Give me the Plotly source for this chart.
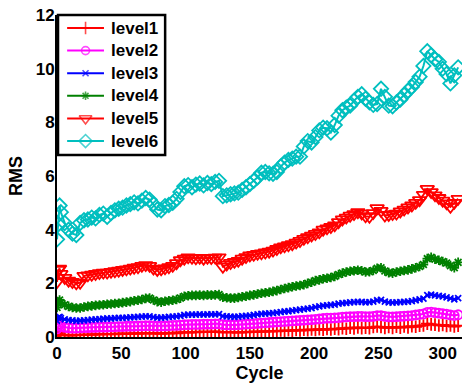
import plotly.graph_objects as go

# Cycle index of each sample
cycles = [0, 1, 2] + list(range(3, 313, 3))

level1 = [0.12, 0.16, 0.10,
          0.07, 0.09, 0.05, 0.08, 0.06, 0.09, 0.07, 0.10, 0.08, 0.11,
          0.09, 0.12, 0.10, 0.12, 0.10, 0.13, 0.11, 0.13, 0.12, 0.14,
          0.12, 0.15, 0.13, 0.15, 0.13, 0.14, 0.12, 0.15, 0.13, 0.16,
          0.14, 0.17, 0.18, 0.16, 0.19, 0.17, 0.20, 0.18, 0.20, 0.18,
          0.21, 0.19, 0.17, 0.19, 0.17, 0.18, 0.16, 0.19, 0.17, 0.20,
          0.18, 0.21, 0.19, 0.22, 0.20, 0.23, 0.21, 0.24, 0.22, 0.25,
          0.23, 0.26, 0.24, 0.27, 0.25, 0.28, 0.26, 0.29, 0.27, 0.30,
          0.28, 0.31, 0.29, 0.33, 0.31, 0.35, 0.32, 0.36, 0.33, 0.35,
          0.33, 0.37, 0.39, 0.37, 0.34, 0.37, 0.34, 0.38, 0.35, 0.39,
          0.36, 0.40, 0.38, 0.42, 0.43, 0.50, 0.47, 0.46, 0.43, 0.45,
          0.41, 0.43, 0.39, 0.42]

level2 = [0.30, 0.40, 0.45,
          0.40, 0.36, 0.34, 0.33, 0.33, 0.34, 0.35, 0.35, 0.36, 0.36,
          0.37, 0.37, 0.37, 0.38, 0.38, 0.39, 0.39, 0.40, 0.40, 0.40,
          0.41, 0.41, 0.42, 0.42, 0.41, 0.40, 0.41, 0.41, 0.42, 0.43,
          0.43, 0.44, 0.46, 0.46, 0.47, 0.47, 0.47, 0.48, 0.48, 0.48,
          0.49, 0.49, 0.46, 0.45, 0.45, 0.45, 0.46, 0.47, 0.48, 0.49,
          0.50, 0.51, 0.52, 0.53, 0.54, 0.55, 0.56, 0.57, 0.58, 0.59,
          0.60, 0.61, 0.62, 0.63, 0.64, 0.65, 0.66, 0.67, 0.69, 0.70,
          0.70, 0.71, 0.72, 0.74, 0.75, 0.76, 0.76, 0.77, 0.77, 0.76,
          0.76, 0.77, 0.80, 0.80, 0.77, 0.75, 0.75, 0.76, 0.77, 0.78,
          0.79, 0.80, 0.82, 0.84, 0.86, 0.92, 0.93, 0.91, 0.89, 0.87,
          0.85, 0.82, 0.80, 0.83]

level3 = [0.60, 0.72, 0.75,
          0.70, 0.66, 0.63, 0.62, 0.60, 0.61, 0.62, 0.63, 0.65, 0.66,
          0.67, 0.68, 0.69, 0.69, 0.70, 0.71, 0.71, 0.72, 0.73, 0.74,
          0.75, 0.76, 0.77, 0.77, 0.74, 0.72, 0.72, 0.73, 0.75, 0.76,
          0.77, 0.79, 0.82, 0.83, 0.83, 0.83, 0.84, 0.83, 0.84, 0.84,
          0.84, 0.85, 0.78, 0.77, 0.76, 0.75, 0.76, 0.78, 0.79, 0.80,
          0.82, 0.84, 0.86, 0.87, 0.88, 0.89, 0.91, 0.93, 0.95, 0.96,
          0.98, 1.00, 1.02, 1.04, 1.06, 1.08, 1.11, 1.14, 1.17, 1.18,
          1.20, 1.21, 1.24, 1.26, 1.27, 1.29, 1.30, 1.31, 1.31, 1.29,
          1.30, 1.32, 1.37, 1.38, 1.32, 1.29, 1.28, 1.29, 1.30, 1.31,
          1.32, 1.34, 1.37, 1.40, 1.43, 1.56, 1.58, 1.55, 1.53, 1.51,
          1.48, 1.44, 1.40, 1.45]

level4 = [1.10, 1.30, 1.38,
          1.28, 1.20, 1.14, 1.10, 1.08, 1.08, 1.12, 1.14, 1.16, 1.18,
          1.19, 1.20, 1.22, 1.23, 1.25, 1.26, 1.28, 1.30, 1.32, 1.35,
          1.37, 1.40, 1.44, 1.45, 1.38, 1.32, 1.30, 1.33, 1.35, 1.37,
          1.40, 1.45, 1.52, 1.54, 1.55, 1.55, 1.56, 1.55, 1.57, 1.56,
          1.57, 1.58, 1.48, 1.46, 1.45, 1.45, 1.47, 1.50, 1.52, 1.55,
          1.57, 1.60, 1.63, 1.65, 1.67, 1.70, 1.73, 1.77, 1.81, 1.84,
          1.87, 1.90, 1.92, 1.95, 2.00, 2.04, 2.10, 2.13, 2.17, 2.19,
          2.22, 2.26, 2.33, 2.38, 2.42, 2.45, 2.47, 2.49, 2.47, 2.42,
          2.43, 2.48, 2.56, 2.58, 2.46, 2.40, 2.38, 2.42, 2.45, 2.48,
          2.50, 2.54, 2.58, 2.63, 2.70, 2.92, 2.97, 2.90, 2.86, 2.81,
          2.76, 2.66, 2.58, 2.78]

level5 = [2.05, 2.50, 2.55,
          2.35, 2.20, 2.10, 2.05, 2.00, 2.02, 2.28, 2.30, 2.32, 2.35,
          2.38, 2.40, 2.40, 2.43, 2.45, 2.47, 2.50, 2.52, 2.55, 2.58,
          2.60, 2.65, 2.68, 2.65, 2.55, 2.50, 2.52, 2.56, 2.60, 2.65,
          2.75, 2.86, 2.92, 2.97, 2.95, 2.93, 2.95, 2.92, 2.95, 2.94,
          2.96, 2.97, 2.62, 2.70, 2.76, 2.80, 2.84, 2.92, 2.98, 3.04,
          3.06, 3.10, 3.12, 3.15, 3.18, 3.22, 3.28, 3.34, 3.38, 3.42,
          3.46, 3.52, 3.58, 3.66, 3.72, 3.78, 3.84, 3.90, 4.00, 4.05,
          4.10, 4.16, 4.28, 4.38, 4.45, 4.52, 4.58, 4.65, 4.60, 4.50,
          4.48, 4.62, 4.80, 4.70, 4.53, 4.55, 4.58, 4.60, 4.68, 4.75,
          4.83, 4.90, 5.00, 5.10, 5.30, 5.52, 5.40, 5.28, 5.18, 5.08,
          4.98, 4.85, 5.00, 5.15]

level6 = [3.64, 4.20, 4.90,
          4.65, 4.25, 4.00, 3.85, 3.80, 4.25, 4.35, 4.38, 4.45, 4.42,
          4.55, 4.60, 4.48, 4.62, 4.72, 4.78, 4.82, 4.90, 4.95, 5.02,
          4.98, 5.08, 5.18, 5.12, 4.95, 4.75, 4.72, 4.88, 4.92, 5.00,
          5.15, 5.40, 5.62, 5.66, 5.58, 5.68, 5.72, 5.65, 5.74, 5.70,
          5.78, 5.82, 5.25, 5.28, 5.32, 5.35, 5.38, 5.48, 5.58, 5.70,
          5.82, 5.95, 6.12, 6.15, 6.10, 6.08, 6.15, 6.35, 6.50, 6.60,
          6.65, 6.72, 6.72, 7.10, 7.30, 7.25, 7.45, 7.70, 7.80, 7.78,
          7.62, 7.90, 8.25, 8.45, 8.55, 8.62, 8.80, 8.95, 9.05, 8.88,
          8.75, 8.65, 8.68, 9.25, 8.95, 8.62, 8.60, 8.74, 8.85, 9.02,
          9.18, 9.32, 9.50, 9.70, 10.10, 10.65, 10.50, 10.35, 10.25, 10.00,
          9.80, 9.45, 9.75, 10.05]

names = ["level1", "level2", "level3", "level4", "level5", "level6"]
series = [level1, level2, level3, level4, level5, level6]
colors = ["#ff0000", "#ff00ff", "#0000ff", "#008000", "#ff0000", "#00bfbf"]
symbols = ["cross-thin-open", "circle-open", "x-thin-open", "asterisk-open",
           "triangle-down-open", "diamond-open"]
sizes = [9, 9, 6, 8, 12, 11]

font_family = "Liberation Sans, Arial, sans-serif"

fig = go.Figure()
for name, ys, col, sym, sz in zip(names, series, colors, symbols, sizes):
    fig.add_trace(go.Scatter(
        x=cycles, y=ys, name=name, mode="lines+markers",
        line=dict(color=col, width=2),
        marker=dict(symbol=sym, size=sz, color=col, line=dict(color=col, width=1.8)),
    ))

# Boxed legend in the upper-left corner, drawn on a hidden [0, 1] overlay axis
leg_left, leg_right, leg_top, leg_bottom = 0.0025, 0.267, 1.0, 0.565
key_x0, key_x1, text_x = 0.025, 0.116, 0.128
row_top, row_step = 0.9596, 0.0702
legend_sizes = [9, 8, 6, 7, 11, 10]
annotations = []
for i, (name, col, sym, sz) in enumerate(zip(names, colors, symbols, legend_sizes)):
    yy = row_top - i * row_step
    fig.add_trace(go.Scatter(
        x=[key_x0, (key_x0 + key_x1) / 2, key_x1], y=[yy, yy, yy],
        xaxis="x2", yaxis="y2", mode="lines+markers", showlegend=False,
        hoverinfo="skip", line=dict(color=col, width=2),
        marker=dict(symbol=sym, size=[0, sz, 0], color=col,
                    line=dict(color=col, width=1.6)),
    ))
    annotations.append(dict(
        x=text_x, y=yy, xref="paper", yref="paper", text="<b>%s</b>" % name,
        showarrow=False, xanchor="left", yanchor="middle",
        font=dict(family=font_family, size=17, color="black"),
    ))

fig.update_layout(
    width=462, height=383,
    margin=dict(l=57, r=0, t=15, b=46),
    paper_bgcolor="white", plot_bgcolor="white",
    font=dict(family=font_family, color="black", size=17),
    showlegend=False,
    annotations=annotations,
    shapes=[dict(type="rect", xref="paper", yref="paper", layer="below",
                 x0=leg_left, x1=leg_right, y0=leg_bottom, y1=leg_top,
                 line=dict(color="black", width=2.5), fillcolor="white")],
    xaxis=dict(
        range=[0, 315], tickvals=[0, 50, 100, 150, 200, 250, 300],
        showgrid=False, zeroline=False, showline=True, linecolor="black", linewidth=2,
        ticks="", tickfont=dict(size=17, weight="bold"),
        title=dict(text="<b>Cycle</b>", font=dict(size=18), standoff=2),
    ),
    yaxis=dict(
        range=[0, 12], tickvals=[0, 2, 4, 6, 8, 10, 12],
        showgrid=False, zeroline=False, showline=True, linecolor="black", linewidth=2,
        ticks="", tickfont=dict(size=17, weight="bold"), ticklabelstandoff=-3,
        title=dict(text="<b>RMS</b>", font=dict(size=18), standoff=8),
    ),
    xaxis2=dict(overlaying="x", range=[0, 1], visible=False, fixedrange=True),
    yaxis2=dict(overlaying="y", range=[0, 1], visible=False, fixedrange=True),
)

fig.write_html("out.html")
